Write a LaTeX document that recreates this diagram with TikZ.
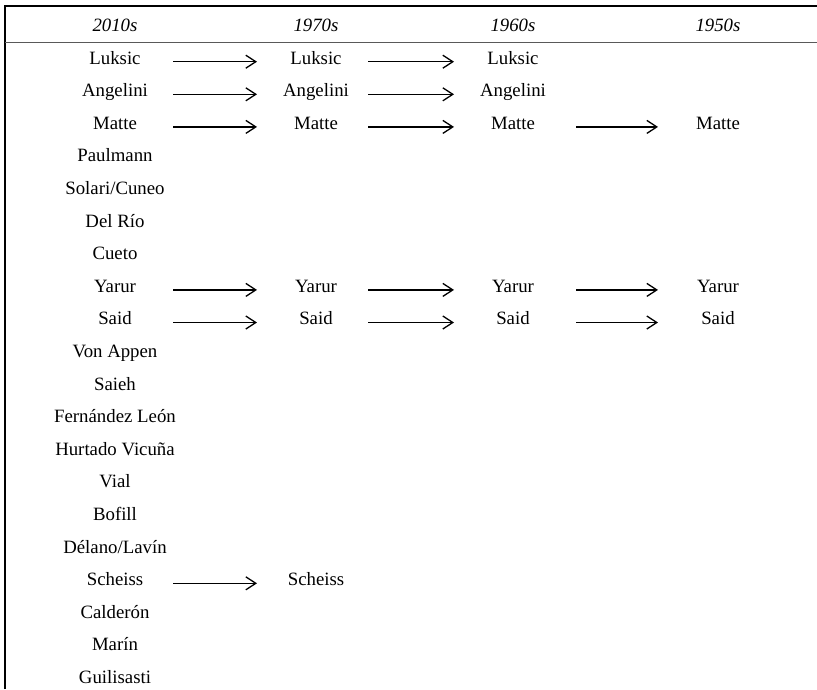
\documentclass[tikz,border=0pt]{standalone}
\usepackage{fontspec}
\setmainfont{Liberation Serif}
\usetikzlibrary{arrows.meta,calc}
\begin{document}
\begin{tikzpicture}[x=1pt,y=-1pt,
 lbl/.style={anchor=base,inner sep=0pt,font=\fontsize{18.8}{20}\selectfont},
 hdr/.style={anchor=base,inner sep=0pt,font=\fontsize{18.8}{20}\selectfont\itshape},
 arr/.style={-{Straight Barb[length=10pt,width=13pt]},line width=1.3pt},
 frame/.style={line width=1.7pt},
 rule/.style={line width=1pt,black!65}]
\useasboundingbox (0,0) rectangle (817,689);
\draw[frame] (5,689) -- (5,6) -- (817,6);
\draw[rule] (5,42) -- (817,42);
% headers
\node[hdr] (h1) at (115,31) {2010s};
\node[hdr] (h2) at (316,31) {1970s};
\node[hdr] (h3) at (513,31) {1960s};
\node[hdr] (h4) at (718,31) {1950s};
% first column
\foreach \name [count=\i from 0] in {Luksic,Angelini,Matte,Paulmann,Solari/Cuneo,Del Río,Cueto,Yarur,Said,Von Appen,Saieh,Fernández León,Hurtado Vicuña,Vial,Bofill,Délano/Lavín,Scheiss,Calderón,Marín,Guilisasti}
  \node[lbl] (c1r\i) at (115,{64+32.6*\i}) {\name};
% second column
\foreach \name/\i in {Luksic/0,Angelini/1,Matte/2,Yarur/7,Said/8,Scheiss/16}
  \node[lbl] (c2r\i) at (316,{64+32.6*\i}) {\name};
% third column
\foreach \name/\i in {Luksic/0,Angelini/1,Matte/2,Yarur/7,Said/8}
  \node[lbl] (c3r\i) at (513,{64+32.6*\i}) {\name};
% fourth column
\foreach \name/\i in {Matte/2,Yarur/7,Said/8}
  \node[lbl] (c4r\i) at (718,{64+32.6*\i}) {\name};
% arrow x positions
\coordinate (a1) at (173,0);
\coordinate (b1) at (257,0);
\coordinate (a2) at (368,0);
\coordinate (b2) at (454,0);
\coordinate (a3) at (576,0);
\coordinate (b3) at (658,0);
% arrows
\foreach \i in {0,1,2,7,8,16}
  \draw[arr] (a1 |- c1r\i.mid) -- (b1 |- c2r\i.mid);
\foreach \i in {0,1,2,7,8}
  \draw[arr] (a2 |- c2r\i.mid) -- (b2 |- c3r\i.mid);
\foreach \i in {2,7,8}
  \draw[arr] (a3 |- c3r\i.mid) -- (b3 |- c4r\i.mid);
\end{tikzpicture}
\end{document}
